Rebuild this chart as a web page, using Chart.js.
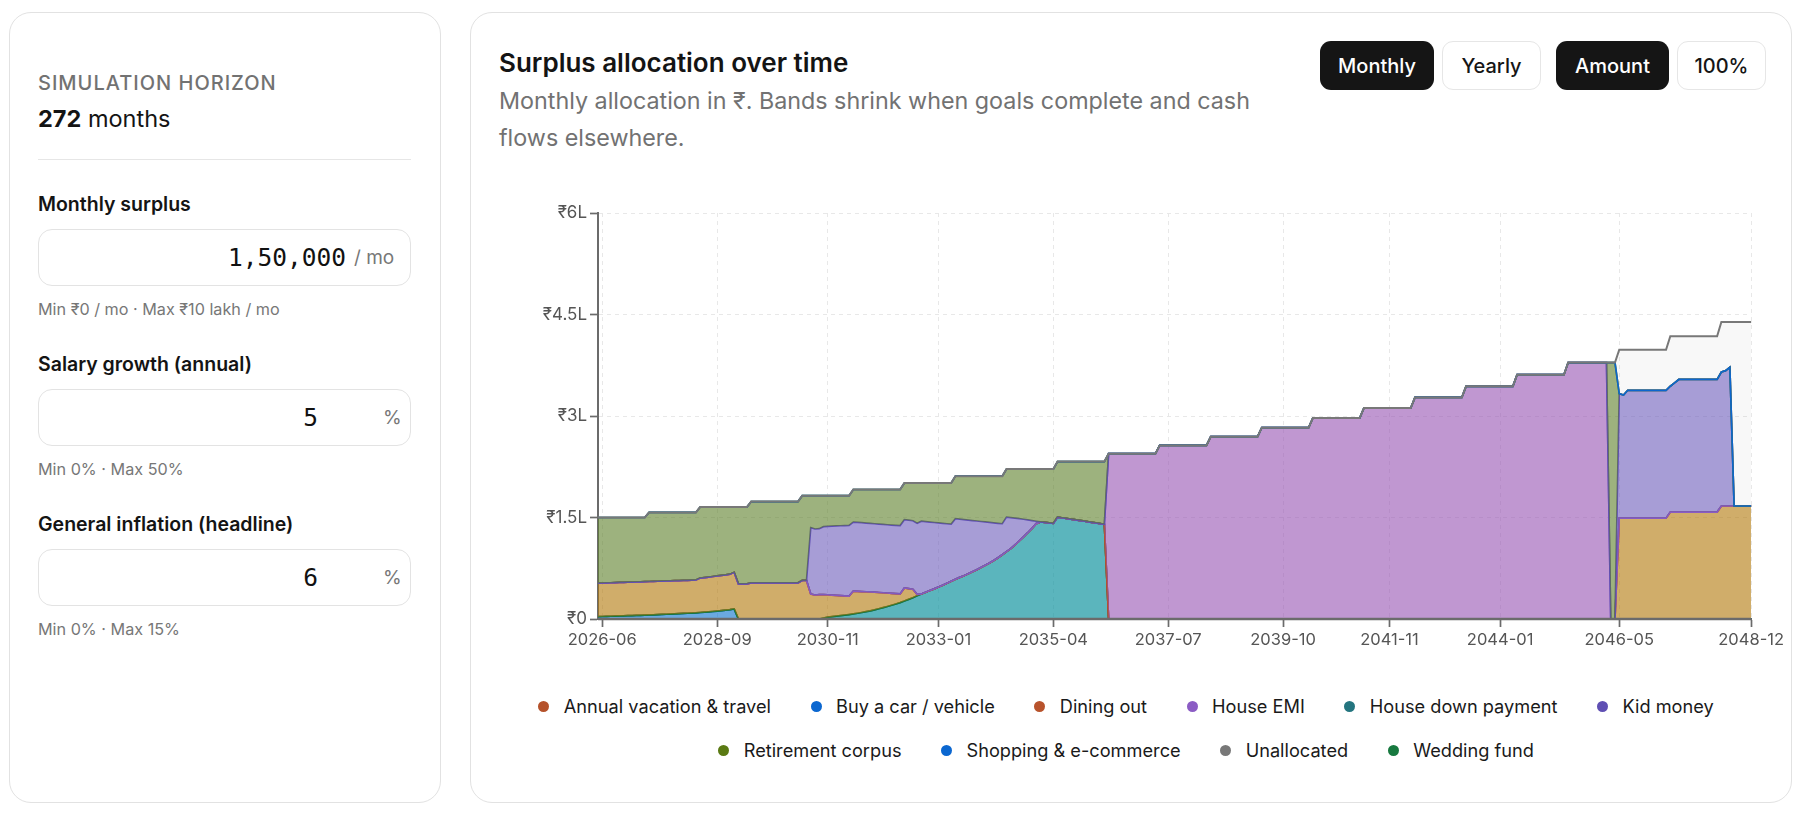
<!DOCTYPE html>
<html>
<head>
<meta charset="utf-8">
<script src="https://cdn.jsdelivr.net/npm/chart.js@4.4.1/dist/chart.umd.min.js"></script>
<style>
  body { margin: 0; width: 1806px; height: 814px; background: #fff; position: relative; overflow: hidden;
         font-family: Inter, "Noto Sans", sans-serif; color: #141414; }
  .card { position: absolute; top: 12px; height: 791px; border: 1.5px solid #e2e2e2; border-radius: 22px; box-sizing: border-box; }
  .t { position: absolute; white-space: nowrap; }
  .eyebrow { left: 38px; top: 71px; font-size: 20px; line-height: 24px; letter-spacing: 1px; color: #727272; font-weight: 500; }
  .big { left: 38px; top: 105px; font-size: 23.5px; line-height: 28px; }
  .lbl { left: 38px; font-size: 19.5px; line-height: 24px; font-weight: 600; }
  .help { left: 38px; font-size: 16.2px; line-height: 20px; color: #777; }
  .field { position: absolute; left: 38px; width: 373px; height: 57px; border: 1px solid #e3e3e3; border-radius: 14px; box-sizing: border-box; }
  .num { position: absolute; top: 0; line-height: 55px; font-family: "DejaVu Sans Mono", monospace; font-size: 24.5px; color: #111; }
  .unit { position: absolute; top: 0; line-height: 55px; font-size: 19px; color: #777; }
  .btn { position: absolute; top: 41px; height: 49px; border-radius: 11px; box-sizing: border-box; display: flex;
         align-items: center; justify-content: center; font-size: 20px; font-weight: 500; }
  .on { background: #151515; color: #fff; }
  .off { background: #fff; color: #151515; border: 1px solid #e6e6e6; }
  #chartBox { position: absolute; left: 538px; top: 190px; width: 1249px; height: 469px; }
  .legendRow { position: absolute; left: 498px; width: 1256px; display: flex; justify-content: center; column-gap: 39.5px;
               font-size: 18.2px; line-height: 24px; color: #1a1a1a; }
  .legendRow span { display: flex; align-items: center; white-space: nowrap; }
  .legendRow i { display: inline-block; width: 11px; height: 11px; border-radius: 50%; margin-right: 14.5px; }
</style>
</head>
<body>
<div class="card" style="left:9px; width:432px;"></div>
<div class="card" style="left:470px; width:1322px;"></div>

<div class="t eyebrow">SIMULATION HORIZON</div>
<div class="t big"><b>272</b> months</div>
<div style="position:absolute; left:38px; top:159px; width:373px; height:1px; background:#e6e6e6;"></div>

<div class="t lbl" style="top:192px;">Monthly surplus</div>
<div class="field" style="top:229px;"><span class="num" style="right:64px;">1,50,000</span><span class="unit" style="left:315px;">/ mo</span></div>
<div class="t help" style="top:299px;">Min ₹0 / mo · Max ₹10 lakh / mo</div>

<div class="t lbl" style="top:352px;">Salary growth (annual)</div>
<div class="field" style="top:389px;"><span class="num" style="right:92px;">5</span><span class="unit" style="left:344px;">%</span></div>
<div class="t help" style="top:459px;">Min 0% · Max 50%</div>

<div class="t lbl" style="top:512px;">General inflation (headline)</div>
<div class="field" style="top:549px;"><span class="num" style="right:92px;">6</span><span class="unit" style="left:344px;">%</span></div>
<div class="t help" style="top:619px;">Min 0% · Max 15%</div>

<div class="t" style="left:499px; top:48px; font-size:26px; line-height:30px; font-weight:600;">Surplus allocation over time</div>
<div class="t" style="left:499px; top:82px; font-size:23.3px; line-height:37px; color:#727272;">Monthly allocation in ₹. Bands shrink when goals complete and cash<br>flows elsewhere.</div>

<div class="btn on" style="left:1320px; width:114px;">Monthly</div>
<div class="btn off" style="left:1442px; width:99px;">Yearly</div>
<div class="btn on" style="left:1556px; width:113px;">Amount</div>
<div class="btn off" style="left:1677px; width:89px;">100%</div>

<div id="chartBox"><canvas id="allocationChart"></canvas></div>
<div class="legendRow" id="legendRow0" style="top:694px;"></div>
<div class="legendRow" id="legendRow1" style="top:738px;"></div>

<script>
// one label per simulated month (272 months), one line per plan year
const months = [
  "2026-05","2026-06","2026-07","2026-08","2026-09","2026-10","2026-11","2026-12","2027-01","2027-02","2027-03","2027-04",
  "2027-05","2027-06","2027-07","2027-08","2027-09","2027-10","2027-11","2027-12","2028-01","2028-02","2028-03","2028-04",
  "2028-05","2028-06","2028-07","2028-08","2028-09","2028-10","2028-11","2028-12","2029-01","2029-02","2029-03","2029-04",
  "2029-05","2029-06","2029-07","2029-08","2029-09","2029-10","2029-11","2029-12","2030-01","2030-02","2030-03","2030-04",
  "2030-05","2030-06","2030-07","2030-08","2030-09","2030-10","2030-11","2030-12","2031-01","2031-02","2031-03","2031-04",
  "2031-05","2031-06","2031-07","2031-08","2031-09","2031-10","2031-11","2031-12","2032-01","2032-02","2032-03","2032-04",
  "2032-05","2032-06","2032-07","2032-08","2032-09","2032-10","2032-11","2032-12","2033-01","2033-02","2033-03","2033-04",
  "2033-05","2033-06","2033-07","2033-08","2033-09","2033-10","2033-11","2033-12","2034-01","2034-02","2034-03","2034-04",
  "2034-05","2034-06","2034-07","2034-08","2034-09","2034-10","2034-11","2034-12","2035-01","2035-02","2035-03","2035-04",
  "2035-05","2035-06","2035-07","2035-08","2035-09","2035-10","2035-11","2035-12","2036-01","2036-02","2036-03","2036-04",
  "2036-05","2036-06","2036-07","2036-08","2036-09","2036-10","2036-11","2036-12","2037-01","2037-02","2037-03","2037-04",
  "2037-05","2037-06","2037-07","2037-08","2037-09","2037-10","2037-11","2037-12","2038-01","2038-02","2038-03","2038-04",
  "2038-05","2038-06","2038-07","2038-08","2038-09","2038-10","2038-11","2038-12","2039-01","2039-02","2039-03","2039-04",
  "2039-05","2039-06","2039-07","2039-08","2039-09","2039-10","2039-11","2039-12","2040-01","2040-02","2040-03","2040-04",
  "2040-05","2040-06","2040-07","2040-08","2040-09","2040-10","2040-11","2040-12","2041-01","2041-02","2041-03","2041-04",
  "2041-05","2041-06","2041-07","2041-08","2041-09","2041-10","2041-11","2041-12","2042-01","2042-02","2042-03","2042-04",
  "2042-05","2042-06","2042-07","2042-08","2042-09","2042-10","2042-11","2042-12","2043-01","2043-02","2043-03","2043-04",
  "2043-05","2043-06","2043-07","2043-08","2043-09","2043-10","2043-11","2043-12","2044-01","2044-02","2044-03","2044-04",
  "2044-05","2044-06","2044-07","2044-08","2044-09","2044-10","2044-11","2044-12","2045-01","2045-02","2045-03","2045-04",
  "2045-05","2045-06","2045-07","2045-08","2045-09","2045-10","2045-11","2045-12","2046-01","2046-02","2046-03","2046-04",
  "2046-05","2046-06","2046-07","2046-08","2046-09","2046-10","2046-11","2046-12","2047-01","2047-02","2047-03","2047-04",
  "2047-05","2047-06","2047-07","2047-08","2047-09","2047-10","2047-11","2047-12","2048-01","2048-02","2048-03","2048-04",
  "2048-05","2048-06","2048-07","2048-08","2048-09","2048-10","2048-11","2048-12"
];

const tickLabels = ["2026-06", "2028-09", "2030-11", "2033-01", "2035-04", "2037-07",
                    "2039-10", "2041-11", "2044-01", "2046-05", "2048-12"];

// monthly allocation per goal, in ₹ thousands
const buyCar = [
  3.5, 3.7, 3.9, 4.1, 4.3, 4.5, 4.7, 4.9, 5.1, 5.3, 5.5, 5.7,
  6.0, 6.2, 6.5, 6.7, 7.0, 7.3, 7.6, 7.9, 8.2, 8.5, 8.8, 9.1,
  9.6, 10.1, 10.6, 11.1, 11.7, 12.3, 13.0, 13.8, 15.0, 0, 0, 0,
  0, 0, 0, 0, 0, 0, 0, 0, 0, 0, 0, 0,
  0, 0, 0, 0, 0, 0, 0, 0, 0, 0, 0, 0,
  0, 0, 0, 0, 0, 0, 0, 0, 0, 0, 0, 0,
  0, 0, 0, 0, 0, 0, 0, 0, 0, 0, 0, 0,
  0, 0, 0, 0, 0, 0, 0, 0, 0, 0, 0, 0,
  0, 0, 0, 0, 0, 0, 0, 0, 0, 0, 0, 0,
  0, 0, 0, 0, 0, 0, 0, 0, 0, 0, 0, 0,
  0, 0, 0, 0, 0, 0, 0, 0, 0, 0, 0, 0,
  0, 0, 0, 0, 0, 0, 0, 0, 0, 0, 0, 0,
  0, 0, 0, 0, 0, 0, 0, 0, 0, 0, 0, 0,
  0, 0, 0, 0, 0, 0, 0, 0, 0, 0, 0, 0,
  0, 0, 0, 0, 0, 0, 0, 0, 0, 0, 0, 0,
  0, 0, 0, 0, 0, 0, 0, 0, 0, 0, 0, 0,
  0, 0, 0, 0, 0, 0, 0, 0, 0, 0, 0, 0,
  0, 0, 0, 0, 0, 0, 0, 0, 0, 0, 0, 0,
  0, 0, 0, 0, 0, 0, 0, 0, 0, 0, 0, 0,
  0, 0, 0, 0, 0, 0, 0, 0, 0, 0, 0, 0,
  0, 0, 0, 0, 0, 0, 0, 0, 0, 0, 0, 0,
  0, 0, 0, 0, 0, 0, 0, 0, 0, 0, 0, 0,
  0, 0, 0, 0, 0, 0, 0, 0
];

const houseDown = [
  0, 0, 0, 0, 0, 0, 0, 0, 0, 0, 0, 0,
  0, 0, 0, 0, 0, 0, 0, 0, 0, 0, 0, 0,
  0, 0, 0, 0, 0, 0, 0, 0, 0, 0, 0, 0,
  0, 0, 0, 0, 0, 0, 0, 0, 0, 0, 0, 0,
  0, 0, 0, 0, 0, 1.5, 2.7, 3.5, 4.3, 5.0, 5.8, 6.6,
  7.5, 8.5, 9.6, 10.8, 12.0, 13.5, 15.2, 16.8, 18.5, 20.3, 22.2, 24.2,
  26.5, 29.0, 31.5, 34.5, 37.0, 39.5, 42.0, 44.5, 47.2, 50.0, 52.8, 55.7,
  58.7, 61.5, 64.0, 66.8, 69.8, 72.8, 76.0, 79.3, 82.8, 86.5, 90.5, 95.0,
  99.5, 104.0, 109.5, 115.5, 121.5, 127.5, 134.0, 141.0, 143.5, 142.8, 142.0, 141.2,
  150.6, 149.6, 148.7, 147.7, 146.8, 145.8, 144.9, 143.9, 142.9, 142.0, 141.0, 140.0,
  0, 0, 0, 0, 0, 0, 0, 0, 0, 0, 0, 0,
  0, 0, 0, 0, 0, 0, 0, 0, 0, 0, 0, 0,
  0, 0, 0, 0, 0, 0, 0, 0, 0, 0, 0, 0,
  0, 0, 0, 0, 0, 0, 0, 0, 0, 0, 0, 0,
  0, 0, 0, 0, 0, 0, 0, 0, 0, 0, 0, 0,
  0, 0, 0, 0, 0, 0, 0, 0, 0, 0, 0, 0,
  0, 0, 0, 0, 0, 0, 0, 0, 0, 0, 0, 0,
  0, 0, 0, 0, 0, 0, 0, 0, 0, 0, 0, 0,
  0, 0, 0, 0, 0, 0, 0, 0, 0, 0, 0, 0,
  0, 0, 0, 0, 0, 0, 0, 0, 0, 0, 0, 0,
  0, 0, 0, 0, 0, 0, 0, 0, 0, 0, 0, 0,
  0, 0, 0, 0, 0, 0, 0, 0, 0, 0, 0, 0,
  0, 0, 0, 0, 0, 0, 0, 0
];

const wedding = [
  0, 0, 0, 0, 0, 0, 0, 0, 0, 0, 0, 0,
  0, 0, 0, 0, 0, 0, 0, 0, 0, 0, 0, 0,
  0, 0, 0, 0, 0, 0, 0, 0, 0, 0, 0, 0,
  0, 0, 0, 0, 0, 0, 0, 0, 0, 0, 0, 0,
  0, 0, 0, 0, 0, 0, 0, 0, 0, 0, 0, 0,
  0, 0, 0, 0, 0, 0, 0, 0, 0, 0, 0, 0,
  0, 0, 0, 0, 0, 0, 0, 0, 0, 0, 0, 0,
  0, 0, 0, 0, 0, 0, 0, 0, 0, 0, 0, 0,
  0, 0, 0, 0, 0, 0, 0, 0, 0, 0, 0, 0,
  0, 0, 0, 0, 0, 0, 0, 0, 0, 0, 0, 0,
  0, 0, 0, 0, 0, 0, 0, 0, 0, 0, 0, 0,
  0, 0, 0, 0, 0, 0, 0, 0, 0, 0, 0, 0,
  0, 0, 0, 0, 0, 0, 0, 0, 0, 0, 0, 0,
  0, 0, 0, 0, 0, 0, 0, 0, 0, 0, 0, 0,
  0, 0, 0, 0, 0, 0, 0, 0, 0, 0, 0, 0,
  0, 0, 0, 0, 0, 0, 0, 0, 0, 0, 0, 0,
  0, 0, 0, 0, 0, 0, 0, 0, 0, 0, 0, 0,
  0, 0, 0, 0, 0, 0, 0, 0, 0, 0, 0, 0,
  0, 0, 0, 0, 0, 0, 0, 0, 0, 0, 0, 0,
  0, 0, 0, 0, 0, 0, 0, 0, 0, 0, 0, 0,
  0, 0, 0, 0, 0, 0, 0, 0, 0, 0, 0, 0,
  0, 0, 0, 0, 0, 0, 0, 0, 0, 0, 0, 0,
  0, 0, 0, 0, 0, 0, 0, 0
];

const vacation = [
  49.5, 49.5, 49.5, 49.5, 49.5, 49.5, 49.5, 49.5, 49.5, 49.5, 49.5, 49.5,
  49.4, 49.4, 49.3, 49.3, 49.2, 49.1, 49.0, 48.9, 48.8, 48.7, 48.6, 48.5,
  50.9, 51.1, 51.4, 51.7, 51.9, 52.1, 52.2, 52.4, 54.0, 52.0, 52.0, 52.0,
  53.5, 53.5, 53.5, 53.5, 53.5, 53.5, 53.5, 53.5, 53.5, 53.5, 53.5, 53.5,
  57.0, 57.0, 37.0, 35.5, 36.0, 34.5, 33.1, 31.9, 30.7, 29.6, 28.4, 27.3,
  33.8, 32.4, 31.0, 29.5, 28.0, 26.1, 24.0, 22.0, 19.9, 17.7, 15.3, 12.8,
  19.4, 16.0, 12.5, 2.0, 0, 0, 0, 0, 0, 0, 0, 0,
  0, 0, 0, 0, 0, 0, 0, 0, 0, 0, 0, 0,
  0, 0, 0, 0, 0, 0, 0, 0, 0, 0, 0, 0,
  0, 0, 0, 0, 0, 0, 0, 0, 0, 0, 0, 0,
  0, 0, 0, 0, 0, 0, 0, 0, 0, 0, 0, 0,
  0, 0, 0, 0, 0, 0, 0, 0, 0, 0, 0, 0,
  0, 0, 0, 0, 0, 0, 0, 0, 0, 0, 0, 0,
  0, 0, 0, 0, 0, 0, 0, 0, 0, 0, 0, 0,
  0, 0, 0, 0, 0, 0, 0, 0, 0, 0, 0, 0,
  0, 0, 0, 0, 0, 0, 0, 0, 0, 0, 0, 0,
  0, 0, 0, 0, 0, 0, 0, 0, 0, 0, 0, 0,
  0, 0, 0, 0, 0, 0, 0, 0, 0, 0, 0, 0,
  0, 0, 0, 0, 0, 0, 0, 0, 0, 0, 0, 0,
  0, 0, 0, 0, 0, 0, 0, 0, 0, 0, 0, 0,
  149, 149, 149, 149, 149, 149, 149, 149, 149, 149, 149, 149,
  158, 158, 158, 158, 158, 158, 158, 158, 158, 158, 158, 158,
  167, 167, 167, 167, 167, 167, 167, 167
];

const dining = [
  0, 0, 0, 0, 0, 0, 0, 0, 0, 0, 0, 0,
  0, 0, 0, 0, 0, 0, 0, 0, 0, 0, 0, 0,
  0, 0, 0, 0, 0, 0, 0, 0, 0, 0, 0, 0,
  0, 0, 0, 0, 0, 0, 0, 0, 0, 0, 0, 0,
  0, 0, 0, 0, 0, 0, 0, 0, 0, 0, 0, 0,
  0, 0, 0, 0, 0, 0, 0, 0, 0, 0, 0, 0,
  0, 0, 0, 0, 0, 0, 0, 0, 0, 0, 0, 0,
  0, 0, 0, 0, 0, 0, 0, 0, 0, 0, 0, 0,
  0, 0, 0, 0, 0, 0, 0, 0, 0, 0, 0, 0,
  0, 0, 0, 0, 0, 0, 0, 0, 0, 0, 0, 0,
  0, 0, 0, 0, 0, 0, 0, 0, 0, 0, 0, 0,
  0, 0, 0, 0, 0, 0, 0, 0, 0, 0, 0, 0,
  0, 0, 0, 0, 0, 0, 0, 0, 0, 0, 0, 0,
  0, 0, 0, 0, 0, 0, 0, 0, 0, 0, 0, 0,
  0, 0, 0, 0, 0, 0, 0, 0, 0, 0, 0, 0,
  0, 0, 0, 0, 0, 0, 0, 0, 0, 0, 0, 0,
  0, 0, 0, 0, 0, 0, 0, 0, 0, 0, 0, 0,
  0, 0, 0, 0, 0, 0, 0, 0, 0, 0, 0, 0,
  0, 0, 0, 0, 0, 0, 0, 0, 0, 0, 0, 0,
  0, 0, 0, 0, 0, 0, 0, 0, 0, 0, 0, 0,
  0, 0, 0, 0, 0, 0, 0, 0, 0, 0, 0, 0,
  0, 0, 0, 0, 0, 0, 0, 0, 0, 0, 0, 0,
  0, 0, 0, 0, 0, 0, 0, 0
];

const houseEmi = [
  0, 0, 0, 0, 0, 0, 0, 0, 0, 0, 0, 0,
  0, 0, 0, 0, 0, 0, 0, 0, 0, 0, 0, 0,
  0, 0, 0, 0, 0, 0, 0, 0, 0, 0, 0, 0,
  0, 0, 0, 0, 0, 0, 0, 0, 0, 0, 0, 0,
  0, 0, 0, 0, 0, 0, 0, 0, 0, 0, 0, 0,
  0, 0, 0, 0, 0, 0, 0, 0, 0, 0, 0, 0,
  0, 0, 0, 0, 0, 0, 0, 0, 0, 0, 0, 0,
  0, 0, 0, 0, 0, 0, 0, 0, 0, 0, 0, 0,
  0, 0, 0, 0, 0, 0, 0, 0, 0, 0, 0, 0,
  0, 0, 0, 0, 0, 0, 0, 0, 0, 0, 0, 0,
  244.3, 244.3, 244.3, 244.3, 244.3, 244.3, 244.3, 244.3, 244.3, 244.3, 244.3, 244.3,
  256.5, 256.5, 256.5, 256.5, 256.5, 256.5, 256.5, 256.5, 256.5, 256.5, 256.5, 256.5,
  269.4, 269.4, 269.4, 269.4, 269.4, 269.4, 269.4, 269.4, 269.4, 269.4, 269.4, 269.4,
  282.8, 282.8, 282.8, 282.8, 282.8, 282.8, 282.8, 282.8, 282.8, 282.8, 282.8, 282.8,
  297.0, 297.0, 297.0, 297.0, 297.0, 297.0, 297.0, 297.0, 297.0, 297.0, 297.0, 297.0,
  311.8, 311.8, 311.8, 311.8, 311.8, 311.8, 311.8, 311.8, 311.8, 311.8, 311.8, 311.8,
  327.4, 327.4, 327.4, 327.4, 327.4, 327.4, 327.4, 327.4, 327.4, 327.4, 327.4, 327.4,
  343.8, 343.8, 343.8, 343.8, 343.8, 343.8, 343.8, 343.8, 343.8, 343.8, 343.8, 343.8,
  361.0, 361.0, 361.0, 361.0, 361.0, 361.0, 361.0, 361.0, 361.0, 361.0, 361.0, 361.0,
  379.0, 379.0, 379.0, 379.0, 379.0, 379.0, 379.0, 379.0, 379.0, 379.0, 0, 0,
  0, 0, 0, 0, 0, 0, 0, 0, 0, 0, 0, 0,
  0, 0, 0, 0, 0, 0, 0, 0, 0, 0, 0, 0,
  0, 0, 0, 0, 0, 0, 0, 0
];

const kidMoney = [
  0, 0, 0, 0, 0, 0, 0, 0, 0, 0, 0, 0,
  0, 0, 0, 0, 0, 0, 0, 0, 0, 0, 0, 0,
  0, 0, 0, 0, 0, 0, 0, 0, 0, 0, 0, 0,
  0, 0, 0, 0, 0, 0, 0, 0, 0, 0, 0, 0,
  0, 0, 98.0, 97.5, 97.5, 100.5, 101.2, 101.9, 102.6, 103.2, 103.8, 104.3,
  102.0, 101.9, 101.7, 101.5, 101.3, 101.2, 101.1, 101.0, 100.9, 100.8, 100.9, 101.0,
  100.8, 101.0, 101.2, 105.0, 107.5, 104.4, 101.3, 98.1, 94.8, 91.4, 88.0, 84.5,
  89.5, 86.0, 82.8, 79.4, 75.7, 72.0, 68.1, 64.1, 60.0, 55.6, 50.9, 45.8,
  51.1, 45.8, 39.5, 32.7, 25.9, 19.0, 11.5, 3.5, 0, 0, 0, 0,
  0, 0, 0, 0, 0, 0, 0, 0, 0, 0, 0, 0,
  0, 0, 0, 0, 0, 0, 0, 0, 0, 0, 0, 0,
  0, 0, 0, 0, 0, 0, 0, 0, 0, 0, 0, 0,
  0, 0, 0, 0, 0, 0, 0, 0, 0, 0, 0, 0,
  0, 0, 0, 0, 0, 0, 0, 0, 0, 0, 0, 0,
  0, 0, 0, 0, 0, 0, 0, 0, 0, 0, 0, 0,
  0, 0, 0, 0, 0, 0, 0, 0, 0, 0, 0, 0,
  0, 0, 0, 0, 0, 0, 0, 0, 0, 0, 0, 0,
  0, 0, 0, 0, 0, 0, 0, 0, 0, 0, 0, 0,
  0, 0, 0, 0, 0, 0, 0, 0, 0, 0, 0, 0,
  0, 0, 0, 0, 0, 0, 0, 0, 0, 0, 0, 0,
  184, 182, 189, 189, 189, 189, 189, 189, 189, 189, 189, 189,
  186, 191, 196, 196, 196, 196, 196, 196, 196, 196, 196, 196,
  198, 200, 205, 0, 0, 0, 0, 0
];

const retirement = [
  97.0, 96.8, 96.6, 96.4, 96.2, 96.0, 95.8, 95.6, 95.4, 95.2, 95.0, 94.8,
  102.1, 101.9, 101.7, 101.5, 101.3, 101.1, 100.9, 100.7, 100.5, 100.3, 100.1, 99.9,
  104.9, 104.2, 103.4, 102.6, 101.8, 101.0, 100.2, 99.2, 96.4, 113.4, 113.4, 113.4,
  120.1, 120.1, 120.1, 120.1, 120.1, 120.1, 120.1, 120.1, 120.1, 120.1, 120.1, 120.1,
  125.3, 125.3, 47.3, 49.3, 48.8, 45.8, 45.3, 45.0, 44.7, 44.5, 44.3, 44.1,
  48.1, 48.6, 49.1, 49.6, 50.1, 50.6, 51.1, 51.6, 52.1, 52.6, 53.0, 53.4,
  54.3, 55.0, 55.8, 59.5, 56.5, 57.1, 57.7, 58.4, 59.0, 59.6, 60.2, 60.8,
  62.9, 63.6, 64.3, 64.9, 65.6, 66.3, 67.0, 67.7, 68.3, 69.0, 69.7, 70.3,
  71.0, 71.8, 72.6, 73.4, 74.2, 75.1, 76.1, 77.1, 78.1, 78.8, 79.6, 80.4,
  82.1, 83.1, 84.0, 85.0, 85.9, 86.9, 87.8, 88.8, 89.8, 90.7, 91.7, 92.7,
  0, 0, 0, 0, 0, 0, 0, 0, 0, 0, 0, 0,
  0, 0, 0, 0, 0, 0, 0, 0, 0, 0, 0, 0,
  0, 0, 0, 0, 0, 0, 0, 0, 0, 0, 0, 0,
  0, 0, 0, 0, 0, 0, 0, 0, 0, 0, 0, 0,
  0, 0, 0, 0, 0, 0, 0, 0, 0, 0, 0, 0,
  0, 0, 0, 0, 0, 0, 0, 0, 0, 0, 0, 0,
  0, 0, 0, 0, 0, 0, 0, 0, 0, 0, 0, 0,
  0, 0, 0, 0, 0, 0, 0, 0, 0, 0, 0, 0,
  0, 0, 0, 0, 0, 0, 0, 0, 0, 0, 0, 0,
  0, 0, 0, 0, 0, 0, 0, 0, 0, 0, 379.0, 379.0,
  0, 0, 0, 0, 0, 0, 0, 0, 0, 0, 0, 0,
  0, 0, 0, 0, 0, 0, 0, 0, 0, 0, 0, 0,
  0, 0, 0, 0, 0, 0, 0, 0
];

const shopping = [
  0, 0, 0, 0, 0, 0, 0, 0, 0, 0, 0, 0,
  0, 0, 0, 0, 0, 0, 0, 0, 0, 0, 0, 0,
  0, 0, 0, 0, 0, 0, 0, 0, 0, 0, 0, 0,
  0, 0, 0, 0, 0, 0, 0, 0, 0, 0, 0, 0,
  0, 0, 0, 0, 0, 0, 0, 0, 0, 0, 0, 0,
  0, 0, 0, 0, 0, 0, 0, 0, 0, 0, 0, 0,
  0, 0, 0, 0, 0, 0, 0, 0, 0, 0, 0, 0,
  0, 0, 0, 0, 0, 0, 0, 0, 0, 0, 0, 0,
  0, 0, 0, 0, 0, 0, 0, 0, 0, 0, 0, 0,
  0, 0, 0, 0, 0, 0, 0, 0, 0, 0, 0, 0,
  0, 0, 0, 0, 0, 0, 0, 0, 0, 0, 0, 0,
  0, 0, 0, 0, 0, 0, 0, 0, 0, 0, 0, 0,
  0, 0, 0, 0, 0, 0, 0, 0, 0, 0, 0, 0,
  0, 0, 0, 0, 0, 0, 0, 0, 0, 0, 0, 0,
  0, 0, 0, 0, 0, 0, 0, 0, 0, 0, 0, 0,
  0, 0, 0, 0, 0, 0, 0, 0, 0, 0, 0, 0,
  0, 0, 0, 0, 0, 0, 0, 0, 0, 0, 0, 0,
  0, 0, 0, 0, 0, 0, 0, 0, 0, 0, 0, 0,
  0, 0, 0, 0, 0, 0, 0, 0, 0, 0, 0, 0,
  0, 0, 0, 0, 0, 0, 0, 0, 0, 0, 0, 0,
  0, 0, 0, 0, 0, 0, 0, 0, 0, 0, 0, 0,
  0, 0, 0, 0, 0, 0, 0, 0, 0, 0, 0, 0,
  0, 0, 0, 0, 0, 0, 0, 0
];

const unallocated = [
  0, 0, 0, 0, 0, 0, 0, 0, 0, 0, 0, 0,
  0, 0, 0, 0, 0, 0, 0, 0, 0, 0, 0, 0,
  0, 0, 0, 0, 0, 0, 0, 0, 0, 0, 0, 0,
  0, 0, 0, 0, 0, 0, 0, 0, 0, 0, 0, 0,
  0, 0, 0, 0, 0, 0, 0, 0, 0, 0, 0, 0,
  0, 0, 0, 0, 0, 0, 0, 0, 0, 0, 0, 0,
  0, 0, 0, 0, 0, 0, 0, 0, 0, 0, 0, 0,
  0, 0, 0, 0, 0, 0, 0, 0, 0, 0, 0, 0,
  0, 0, 0, 0, 0, 0, 0, 0, 0, 0, 0, 0,
  0, 0, 0, 0, 0, 0, 0, 0, 0, 0, 0, 0,
  0, 0, 0, 0, 0, 0, 0, 0, 0, 0, 0, 0,
  0, 0, 0, 0, 0, 0, 0, 0, 0, 0, 0, 0,
  0, 0, 0, 0, 0, 0, 0, 0, 0, 0, 0, 0,
  0, 0, 0, 0, 0, 0, 0, 0, 0, 0, 0, 0,
  0, 0, 0, 0, 0, 0, 0, 0, 0, 0, 0, 0,
  0, 0, 0, 0, 0, 0, 0, 0, 0, 0, 0, 0,
  0, 0, 0, 0, 0, 0, 0, 0, 0, 0, 0, 0,
  0, 0, 0, 0, 0, 0, 0, 0, 0, 0, 0, 0,
  0, 0, 0, 0, 0, 0, 0, 0, 0, 0, 0, 0,
  0, 0, 0, 0, 0, 0, 0, 0, 0, 0, 0, 0,
  65, 67, 60, 60, 60, 60, 60, 60, 60, 60, 60, 60,
  73.9, 68.9, 63.9, 63.9, 63.9, 63.9, 63.9, 63.9, 63.9, 63.9, 63.9, 63.9,
  73.8, 71.8, 66.8, 271.8, 271.8, 271.8, 271.8, 271.8
];

// stacking order, bottom band first
const seriesNames = ["Buy a car / vehicle", "House down payment", "Wedding fund", "Annual vacation & travel",
                     "Dining out", "House EMI", "Kid money", "Retirement corpus", "Shopping & e-commerce", "Unallocated"];
const seriesValues = [buyCar, houseDown, wedding, vacation, dining, houseEmi, kidMoney, retirement, shopping, unallocated];
const lineColors = ["#0b67d0", "#24757f", "#17793f", "#b5522b", "#b8532c", "#8b5cc4", "#5f4fb3", "#5a7a13", "#0b67d0", "#787878"];
const fillColors = ["rgba(7,112,203,0.6)", "rgba(21,149,161,0.7)", "rgba(23,121,63,0.6)", "rgba(177,118,7,0.6)",
                    "rgba(184,83,44,0.6)", "rgba(150,82,178,0.6)", "rgba(108,92,187,0.6)", "rgba(92,127,40,0.6)",
                    "rgba(7,112,203,0.6)", "rgba(120,120,120,0.05)"];

Chart.defaults.font.family = 'Inter, "Noto Sans", sans-serif';

// bands are drawn bottom first, so each band is built on the running total below it
let running = months.map(() => 0);
const datasets = seriesValues.map((values, i) => {
    running = running.map((v, j) => v + values[j]);
    return {
        label: seriesNames[i],
        data: running.slice(),
        borderColor: lineColors[i],
        backgroundColor: fillColors[i],
        borderWidth: i === seriesValues.length - 1 ? 2 : 1.7,
        pointRadius: 0,
        tension: 0,
        fill: i === 0 ? "origin" : "-1",
        order: seriesValues.length - i,
    };
});

// redraw the x axis line over the bands so empty series sitting at zero don't show
const axisOnTop = {
    id: "axisOnTop",
    afterDatasetsDraw(chart) {
        const { ctx, chartArea } = chart;
        ctx.save();
        ctx.strokeStyle = "#6b6b6b";
        ctx.lineWidth = 2.4;
        ctx.beginPath();
        ctx.moveTo(chartArea.left, chartArea.bottom);
        ctx.lineTo(chartArea.right, chartArea.bottom);
        ctx.stroke();
        ctx.restore();
    },
};

const gridOpts = { color: "#e8e8e8", lineWidth: 1, tickLength: 8, tickColor: "#6b6b6b", tickWidth: 1.7, tickBorderDash: [] };
const borderOpts = { color: "#6b6b6b", width: 2, dash: [4, 4] };

const ctx = document.getElementById("allocationChart").getContext("2d");
new Chart(ctx, {
    type: "line",
    data: { labels: months, datasets: datasets },
    plugins: [axisOnTop],
    options: {
        responsive: true,
        maintainAspectRatio: false,
        animation: false,
        layout: { padding: { top: 23, right: 30, bottom: 0, left: 0 } },
        plugins: { legend: { display: false }, tooltip: { enabled: false } },
        scales: {
            x: {
                grid: gridOpts,
                border: borderOpts,
                ticks: { autoSkip: false, maxRotation: 0, color: "#555", font: { size: 16.5 }, padding: 3 },
                afterBuildTicks: (scale) => {
                    scale.ticks = scale.ticks.filter((t) => tickLabels.includes(months[t.value]));
                },
                afterFit: (scale) => { scale.height = 40; },
            },
            y: {
                min: 0,
                max: 600,
                grid: gridOpts,
                border: borderOpts,
                ticks: {
                    stepSize: 150,
                    color: "#555",
                    font: { size: 17 },
                    padding: 3,
                    callback: (v) => (v === 0 ? "₹0" : "₹" + v / 100 + "L"),
                },
                afterFit: (scale) => { scale.width = 60; },
            },
        },
    },
});

// legend in alphabetical order, two rows
const legendItems = seriesNames
    .map((name, i) => ({ name: name, color: lineColors[i] }))
    .sort((a, b) => (a.name < b.name ? -1 : 1));
[legendItems.slice(0, 6), legendItems.slice(6)].forEach((row, r) => {
    const rowEl = document.getElementById("legendRow" + r);
    row.forEach((item) => {
        const span = document.createElement("span");
        const dot = document.createElement("i");
        dot.style.background = item.color;
        span.appendChild(dot);
        span.appendChild(document.createTextNode(item.name));
        rowEl.appendChild(span);
    });
});
</script>
</body>
</html>
